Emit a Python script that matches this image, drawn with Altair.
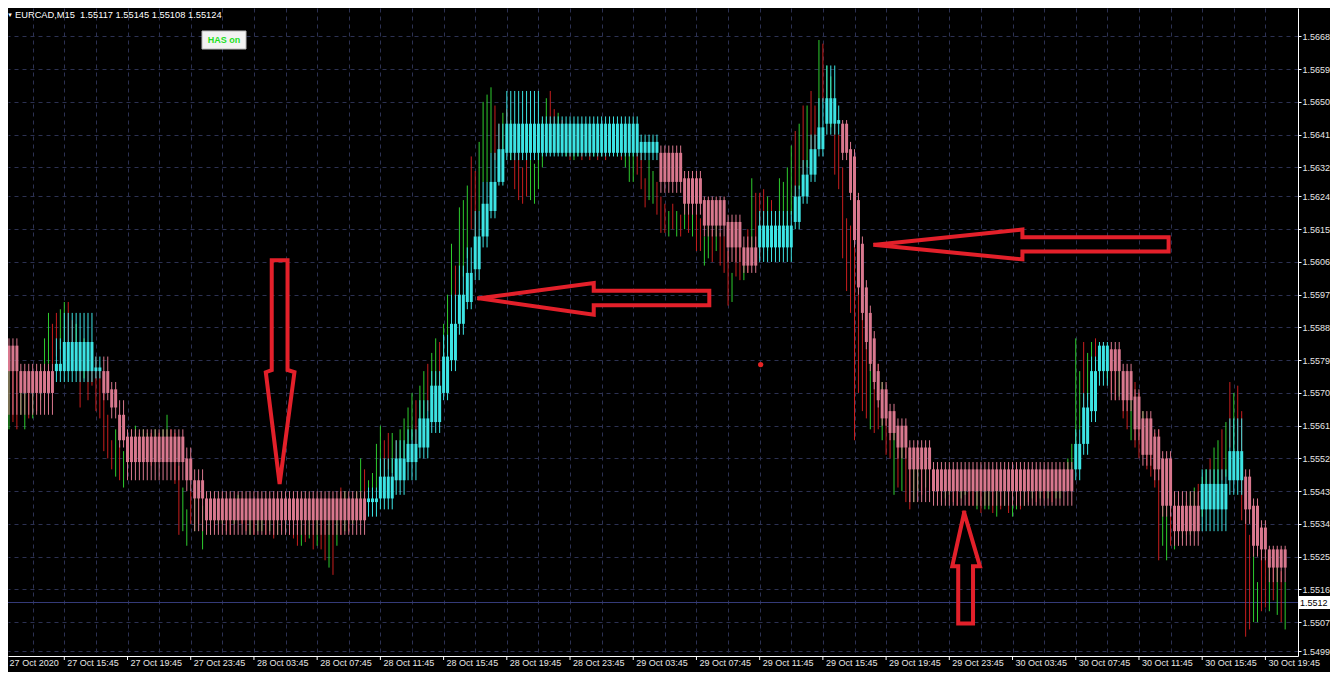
import altair as alt
import pandas as pd

# ---------------- data (prices stored as pips above BASE) ----------------
BASE = 1.5400
PIP = 0.0001

raw_high = [
    181, 180, 177, 176, 174, 173, 176, 174, 177, 185,
    192, 189, 192, 193, 195, 195, 190, 189, 180, 185,
    182, 181, 180, 176, 171, 164, 157, 160, 156, 154,
    159, 160, 161, 159, 160, 159, 159, 160, 159, 160,
    164, 160, 159, 150, 144, 138, 143, 141, 144, 139,
    140, 139, 139, 140, 141, 139, 139, 140, 142, 141,
    140, 139, 138, 139, 140, 139, 139, 138, 138, 139,
    139, 139, 138, 137, 136, 137, 138, 136, 137, 136,
    136, 136, 135, 139, 144, 143, 140, 141, 143, 152,
    149, 146, 148, 156, 161, 157, 159, 159, 157, 160,
    163, 166, 170, 168, 172, 176, 178, 181, 185, 184,
    189, 197, 211, 205, 221, 223, 227, 235, 231, 239,
    250, 252, 254, 249, 244, 247, 248, 245, 239, 236,
    232, 236, 234, 233, 239, 245, 251, 253, 248, 247,
    245, 244, 243, 243, 241, 242, 243, 243, 242, 241,
    243, 242, 243, 244, 243, 241, 240, 238, 236, 239,
    236, 229, 234, 231, 228, 224, 222, 220, 222, 220,
    219, 223, 222, 220, 220, 218, 213, 216, 215, 218,
    214, 213, 209, 203, 216, 212, 210, 215, 229, 225,
    225, 226, 224, 223, 220, 229, 228, 232, 238, 242,
    244, 249, 249, 253, 249, 267, 266, 260, 257, 249,
    241, 232, 218, 216, 213, 207, 199, 194, 189, 184,
    178, 173, 170, 165, 160, 160, 157, 155, 152, 153,
    155, 152, 155, 153, 150, 149, 148, 147, 148, 147,
    146, 147, 147, 146, 145, 145, 144, 145, 145, 145,
    144, 145, 145, 145, 144, 145, 145, 146, 147, 147,
    147, 148, 147, 148, 147, 147, 148, 149, 152, 156,
    185, 176, 184, 181, 184, 185, 184, 184, 183, 181,
    180, 178, 174, 173, 172, 173, 170, 165, 163, 160,
    159, 160, 152, 144, 147, 142, 140, 139, 140, 143,
    144, 145, 147, 149, 152, 155, 157, 160, 162, 173,
    170, 172, 165, 140, 131, 126, 118, 128, 126, 125,
    127, 123, 121, 118,
]
raw_low = [
    160, 162, 160, 164, 160, 163, 163, 165, 168, 170,
    178, 178, 180, 182, 178, 181, 176, 177, 166, 174,
    168, 172, 165, 163, 154, 152, 149, 147, 146, 144,
    149, 152, 153, 151, 152, 152, 150, 152, 151, 152,
    155, 151, 145, 131, 132, 128, 134, 132, 134, 127,
    132, 131, 132, 134, 134, 132, 131, 134, 135, 134,
    132, 131, 131, 132, 132, 131, 132, 130, 131, 132,
    132, 131, 130, 128, 128, 129, 130, 127, 128, 127,
    124, 122, 120, 128, 131, 132, 132, 134, 135, 139,
    140, 139, 140, 143, 147, 146, 149, 148, 147, 151,
    152, 155, 157, 156, 160, 163, 165, 168, 170, 172,
    176, 181, 189, 196, 197, 202, 207, 215, 213, 220,
    228, 228, 236, 234, 231, 234, 236, 234, 226, 223,
    222, 224, 223, 222, 226, 232, 239, 240, 239, 237,
    236, 235, 234, 234, 235, 234, 236, 234, 235, 234,
    235, 234, 236, 236, 235, 234, 232, 228, 228, 230,
    226, 221, 223, 222, 219, 214, 214, 213, 215, 213,
    213, 215, 214, 213, 209, 209, 205, 207, 206, 209,
    205, 203, 194, 195, 202, 201, 201, 203, 209, 207,
    207, 210, 209, 206, 210, 213, 214, 215, 219, 223,
    226, 230, 232, 236, 234, 243, 250, 244, 243, 230,
    226, 207, 198, 192, 157, 170, 165, 163, 160, 159,
    160, 157, 153, 152, 142, 144, 143, 140, 138, 140,
    143, 142, 144, 143, 141, 141, 140, 141, 142, 140,
    139, 141, 142, 139, 139, 138, 137, 138, 138, 137,
    136, 138, 139, 137, 136, 138, 138, 139, 140, 141,
    140, 141, 141, 141, 140, 141, 141, 143, 144, 145,
    156, 160, 165, 168, 171, 173, 174, 176, 174, 170,
    168, 169, 163, 160, 157, 155, 152, 153, 149, 147,
    144, 124, 128, 124, 128, 127, 128, 130, 131, 131,
    132, 134, 136, 138, 139, 141, 144, 146, 147, 155,
    152, 150, 135, 103, 105, 107, 107, 110, 111, 110,
    113, 109, 107, 105,
]
raw_dir = list(
    "GRRGGRGRGG" "GRRGGRRGRG" "RRRRRRRGRG" "GRGRGGRGRG" "GRRRGGRGRG"
    "RGRGGRRGGR" "RGRGGRGRGR" "GRRRGRGRGR" "RGRGRGRGGG" "RGGGGRRGRG"
    "GGGRGGRGGR" "GGGRGGGRRG" "GGGRRGRGRR" "RRGGGGGRRG" "RGRGGRGRGR"
    "GRGRGRGGGR" "RRGGRRRGRG" "RGRGRRGGRG" "RRRGRRGRGR" "RRGRRGGGGR"
    "GRGRRGRGGR" "RRRRRRRRGR" "RGRRGRGRRG" "GRGRGRRGGR" "RGGRRGRGGR"
    "GRGRGGRGRG" "RGRGRGGGGG" "GGRGGRGRGR" "RGRRGRRGRR" "RRGGRGRGRG"
    "GRGGRGGRGR" "GRRRRGGRRG" "RGRG"
)

# Heiken Ashi Smoothed runs: length, body high, body low, wick high, wick low, direction
ha_len = [3, 9, 2, 8, 2, 2, 2, 2, 15, 2, 3, 41, 3, 4, 3, 3, 3, 3, 2, 2, 2, 2, 2, 2,
          2, 2, 9, 25, 5, 6, 5, 6, 4, 4, 9, 2, 2, 2, 2, 3, 1, 2, 1, 1, 1, 1, 1, 1,
          1, 1, 2, 2, 3, 6, 36, 2, 2, 2, 3, 3, 3, 2, 3, 2, 3, 7, 7, 4, 2, 2, 2, 5]
ha_body_hi = [183, 176, 178, 184, 177, 176, 171, 164, 158, 152, 146, 141, 141, 147, 152, 156,
              163, 172, 180, 189, 197, 203, 213, 222, 228, 237, 244, 244, 239, 236, 229, 223,
              217, 210, 216, 224, 230, 237, 243, 251, 245, 244, 237, 235, 223, 211, 199, 192,
              185, 176, 171, 165, 161, 155, 149, 156, 166, 176, 183, 182, 176, 169, 163, 158,
              152, 139, 145, 154, 147, 139, 133, 127]
ha_body_lo = [176, 170, 176, 176, 176, 170, 166, 157, 151, 146, 141, 135, 140, 141, 146, 151,
              155, 162, 170, 179, 189, 195, 204, 213, 220, 228, 236, 236, 236, 228, 222, 216,
              210, 205, 210, 217, 224, 230, 237, 244, 244, 236, 225, 212, 199, 192, 184, 178,
              173, 168, 163, 159, 155, 149, 143, 149, 156, 165, 176, 176, 168, 160, 153, 149,
              139, 132, 138, 146, 138, 128, 127, 122]
ha_wick_hi = [185, 178, 185, 192, 180, 180, 173, 168, 160, 155, 149, 143, 144, 152, 157, 160,
              168, 176, 186, 197, 205, 210, 220, 228, 236, 244, 253, 246, 241, 238, 231, 224,
              219, 213, 220, 227, 234, 241, 251, 260, 249, 245, 239, 237, 225, 213, 201, 194,
              187, 178, 173, 167, 163, 157, 151, 160, 170, 180, 184, 184, 178, 171, 165, 160,
              154, 143, 149, 163, 149, 141, 135, 128]
ha_wick_lo = [164, 164, 173, 173, 174, 168, 163, 155, 146, 143, 132, 131, 136, 138, 142, 146,
              152, 159, 168, 176, 186, 193, 201, 210, 218, 227, 234, 235, 234, 225, 219, 213,
              206, 203, 206, 215, 222, 228, 235, 241, 241, 234, 223, 210, 197, 190, 182, 176,
              171, 166, 161, 157, 152, 140, 139, 146, 153, 162, 172, 168, 165, 157, 150, 146,
              136, 128, 132, 142, 134, 125, 124, 118]
ha_dir = list("D" * 2 + "U" * 3 + "D" * 7 + "U" * 17 + "D" * 5 + "U" * 7
              + "D" * 14 + "U" * 4 + "D" * 7 + "U" * 2 + "D" * 4)

y_ticks = [1.5668, 1.5659, 1.5650, 1.5641, 1.5632, 1.5624, 1.5615, 1.5606, 1.5597, 1.5588,
           1.5579, 1.5570, 1.5561, 1.5552, 1.5543, 1.5534, 1.5525, 1.5516, 1.5507, 1.5499]
time_bars = [-0.6, 14, 30, 46, 62, 78, 94, 110, 126, 142, 158, 174, 190, 206, 222, 238,
             254, 270, 286, 302, 318]
time_labels = ["27 Oct 2020", "27 Oct 15:45", "27 Oct 19:45", "27 Oct 23:45", "28 Oct 03:45",
               "28 Oct 07:45", "28 Oct 11:45", "28 Oct 15:45", "28 Oct 19:45", "28 Oct 23:45",
               "29 Oct 03:45", "29 Oct 07:45", "29 Oct 11:45", "29 Oct 15:45", "29 Oct 19:45",
               "29 Oct 23:45", "30 Oct 03:45", "30 Oct 07:45", "30 Oct 11:45", "30 Oct 15:45",
               "30 Oct 19:45"]
grid_bars = list(range(6, 326, 8))

current_price = 1.55124
title_text = "EURCAD,M15\u00a0 1.55117 1.55145 1.55108 1.55124"
dot_bar, dot_price = 190.25, 1.55778

# hand-drawn red arrows (bar position, price)
arrow_id = [1] * 8 + [2] * 8 + [3] * 8 + [4] * 8
arrow_bar = [66.5, 70.5, 70.5, 72.25, 68.5, 65.0, 66.5, 66.5,
             119.0, 148.0, 148.0, 177.25, 177.25, 148.0, 148.0, 119.0,
             219.25, 256.5, 256.5, 293.5, 293.5, 256.5, 256.5, 219.25,
             241.75, 245.75, 244.0, 244.0, 240.25, 240.25, 238.75, 241.75]
arrow_price = [1.56065, 1.56065, 1.55763, 1.55757, 1.55450, 1.55757, 1.55763, 1.56065,
               1.55960, 1.56002, 1.55981, 1.55981, 1.55941, 1.55941, 1.55915, 1.55960,
               1.56107, 1.56149, 1.56128, 1.56128, 1.56089, 1.56089, 1.56067, 1.56107,
               1.55371, 1.55224, 1.55224, 1.55066, 1.55066, 1.55224, 1.55224, 1.55371]

# ---------------- styling ----------------
W, H = 1290, 648
FONT = "Liberation Sans"
PINK = "#D9788E"
CYAN = "#3CE4E4"
GREEN = "#2ECC2E"
RED = "#C81E1E"
GRID = "#2C3152"
ARROW = "#E3202A"

raw = pd.DataFrame({
    "bar": list(range(len(raw_high))),
    "high": [BASE + v * PIP for v in raw_high],
    "low": [BASE + v * PIP for v in raw_low],
    "col": [GREEN if d == "G" else RED for d in raw_dir],
})

rows = []
b = 0
for n, hi, lo, wt, wb, d in zip(ha_len, ha_body_hi, ha_body_lo, ha_wick_hi, ha_wick_lo, ha_dir):
    for _ in range(n):
        rows.append({"bar": b, "bhi": BASE + hi * PIP, "blo": BASE + lo * PIP,
                     "whi": BASE + wt * PIP, "wlo": BASE + wb * PIP,
                     "col": CYAN if d == "U" else PINK})
        b += 1
ha = pd.DataFrame(rows)

arrows = pd.DataFrame({"id": arrow_id, "bar": arrow_bar, "price": arrow_price,
                       "k": list(range(len(arrow_id)))})
times = pd.DataFrame({"bar": time_bars, "label": time_labels})
ticks = times[times["bar"] > 0]
one = pd.DataFrame({"a": [0]})

xscale = alt.Scale(domain=[-0.25, 326.25], nice=False, zero=False)
yscale = alt.Scale(domain=[1.54977, 1.56758], nice=False, zero=False)
xaxis = alt.Axis(orient="bottom", values=grid_bars, labels=False, ticks=False, title=None,
                 domainColor="#FFFFFF", domainWidth=1, grid=True, gridColor=GRID,
                 gridDash=[4, 4], gridWidth=1)
yaxis = alt.Axis(orient="right", values=y_ticks, format=".4f", title=None,
                 labelColor="#E6E6E6", labelFont=FONT, labelFontSize=9, labelPadding=1,
                 labelOverlap=False, labelFlush=False, tickColor="#FFFFFF", tickSize=3,
                 domainColor="#FFFFFF", domainWidth=1, grid=True, gridColor=GRID,
                 gridDash=[4, 4], gridWidth=1)


def X(f):
    return alt.X(f"{f}:Q", scale=xscale, axis=xaxis)


def Y(f):
    return alt.Y(f"{f}:Q", scale=yscale, axis=yaxis)


price_line = alt.Chart(pd.DataFrame({"p": [current_price]})).mark_rule(
    color="#343A78", strokeWidth=1).encode(y=Y("p"))

raw_layer = alt.Chart(raw).mark_rule(strokeWidth=1).encode(
    x=X("bar"), y=Y("high"), y2="low", color=alt.Color("col:N", scale=None))

wick_layer = alt.Chart(ha).mark_rule(strokeWidth=1).encode(
    x=X("bar"), y=Y("whi"), y2="wlo", color=alt.Color("col:N", scale=None))

body_layer = alt.Chart(ha).mark_rule(strokeWidth=3).encode(
    x=X("bar"), y=Y("bhi"), y2="blo", color=alt.Color("col:N", scale=None))

dot_layer = alt.Chart(pd.DataFrame({"bar": [dot_bar], "p": [dot_price]})).mark_circle(
    size=28, color="#E52424", opacity=1).encode(x=X("bar"), y=Y("p"))

arrow_layer = alt.Chart(arrows).mark_line(
    color=ARROW, strokeWidth=4, strokeJoin="miter", strokeCap="square").encode(
    x=X("bar"), y=Y("price"), detail="id:N", order="k:Q")

tick_layer = alt.Chart(ticks).mark_rule(color="#FFFFFF", strokeWidth=1).encode(
    x=X("bar"), y=alt.value(H), y2=alt.value(H + 4))

time_layer = alt.Chart(times).mark_text(
    align="left", baseline="top", dx=3, font=FONT, fontSize=9, color="#E6E6E6").encode(
    x=X("bar"), y=alt.value(H + 3), text="label:N")

tag_box = alt.Chart(pd.DataFrame({"p": [current_price]})).mark_tick(
    orient="horizontal", color="#FFFFFF", size=32, thickness=13, opacity=1).encode(
    x=alt.value(W + 16), y=Y("p"))

tag_text = alt.Chart(pd.DataFrame({"p": [current_price], "t": ["1.5512"]})).mark_text(
    align="left", baseline="middle", dx=2, font=FONT, fontSize=9, color="#000000").encode(
    x=alt.value(W), y=Y("p"), text="t:N")

title_layer = alt.Chart(one).mark_text(
    align="left", baseline="middle", font=FONT, fontSize=9.3, color="#FFFFFF",
    text=title_text).encode(x=alt.value(7), y=alt.value(7))

marker_layer = alt.Chart(one).mark_text(
    align="center", baseline="middle", font="DejaVu Sans", fontSize=7, color="#FFFFFF",
    text="\u25BE").encode(x=alt.value(2), y=alt.value(7))

button_box = alt.Chart(one).mark_rect(
    fill="#F2F2F2", stroke="#B8B8B8", strokeWidth=1).encode(
    x=alt.value(194), x2=alt.value(238), y=alt.value(23), y2=alt.value(41))

button_text = alt.Chart(one).mark_text(
    align="center", baseline="middle", font=FONT, fontSize=9, fontWeight="bold",
    color="#22E022", text="HAS on").encode(x=alt.value(216), y=alt.value(32))

chart = alt.layer(
    price_line, raw_layer, wick_layer, body_layer, dot_layer, arrow_layer,
    tick_layer, time_layer, tag_box, tag_text, title_layer, marker_layer,
    button_box, button_text,
).properties(
    width=W, height=H,
    autosize=alt.AutoSizeParams(type="none"),
    padding={"left": 0, "top": 0, "right": 32, "bottom": 16},
    background="#000000",
).configure_view(stroke=None)

chart.save("out.html", embed_options={"renderer": "svg", "actions": False})
